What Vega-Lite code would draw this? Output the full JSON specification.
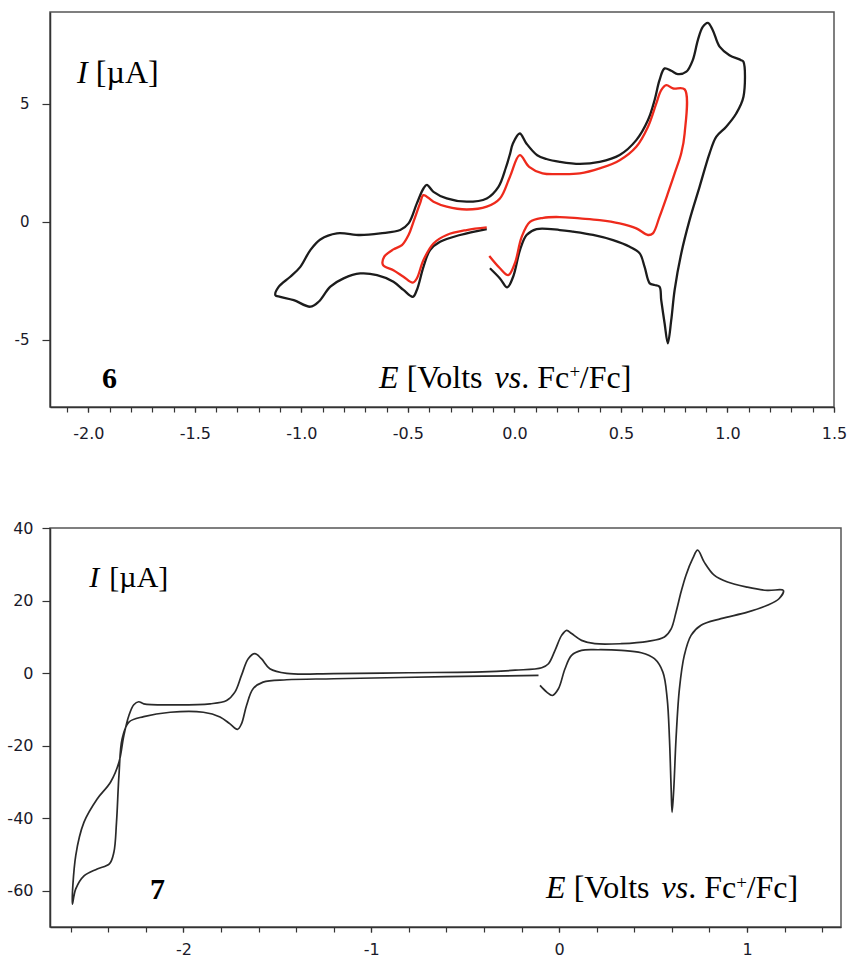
{
  "$schema": "https://vega.github.io/schema/vega-lite/v6.json",
  "background": "white",
  "padding": {"left": 5, "top": 11, "right": 5, "bottom": 0},
  "config": {
    "view": {"stroke": "#555", "strokeWidth": 1.5},
    "axis": {"labelFont": "DejaVu Sans", "labelColor": "#1a1a2a", "domainColor": "#333", "tickColor": "#333", "grid": false, "title": null, "domainWidth": 1.5, "tickWidth": 1.2, "labelOverlap": false, "labelFlush": false},
    "concat": {"spacing": 75}
  },
  "datasets": {
    "top": [
      {"s":"k","o":1,"E":-0.115,"I":-1.97},{"s":"k","o":2,"E":-0.068,"I":-2.40},{"s":"k","o":3,"E":-0.034,"I":-2.78},{"s":"k","o":4,"E":-0.006,"I":-2.33},{"s":"k","o":5,"E":0.026,"I":-1.20},{"s":"k","o":6,"E":0.057,"I":-0.56},{"s":"k","o":7,"E":0.104,"I":-0.31},{"s":"k","o":8,"E":0.213,"I":-0.35},{"s":"k","o":9,"E":0.275,"I":-0.42},{"s":"k","o":10,"E":0.369,"I":-0.56},{"s":"k","o":11,"E":0.463,"I":-0.78},{"s":"k","o":12,"E":0.541,"I":-1.06},{"s":"k","o":13,"E":0.588,"I":-1.34},{"s":"k","o":14,"E":0.611,"I":-1.91},{"s":"k","o":15,"E":0.635,"I":-2.61},{"s":"k","o":16,"E":0.658,"I":-2.68},{"s":"k","o":17,"E":0.681,"I":-2.75},{"s":"k","o":18,"E":0.689,"I":-3.32},{"s":"k","o":19,"E":0.705,"I":-4.31},{"s":"k","o":20,"E":0.720,"I":-5.15},{"s":"k","o":21,"E":0.736,"I":-4.17},{"s":"k","o":22,"E":0.752,"I":-2.89},{"s":"k","o":23,"E":0.783,"I":-1.34},{"s":"k","o":24,"E":0.822,"I":0.07},{"s":"k","o":25,"E":0.869,"I":1.48},{"s":"k","o":26,"E":0.916,"I":2.90},{"s":"k","o":27,"E":0.947,"I":3.60},{"s":"k","o":28,"E":0.994,"I":4.03},{"s":"k","o":29,"E":1.041,"I":4.59},{"s":"k","o":30,"E":1.075,"I":5.30},{"s":"k","o":31,"E":1.075,"I":6.78},{"s":"k","o":32,"E":1.064,"I":6.85},{"s":"k","o":33,"E":1.009,"I":7.06},{"s":"k","o":34,"E":0.963,"I":7.42},{"s":"k","o":35,"E":0.931,"I":8.12},{"s":"k","o":36,"E":0.908,"I":8.43},{"s":"k","o":37,"E":0.884,"I":8.26},{"s":"k","o":38,"E":0.861,"I":7.70},{"s":"k","o":39,"E":0.837,"I":6.85},{"s":"k","o":40,"E":0.807,"I":6.36},{"s":"k","o":41,"E":0.767,"I":6.26},{"s":"k","o":42,"E":0.736,"I":6.40},{"s":"k","o":43,"E":0.705,"I":6.50},{"s":"k","o":44,"E":0.681,"I":6.00},{"s":"k","o":45,"E":0.658,"I":5.16},{"s":"k","o":46,"E":0.627,"I":4.31},{"s":"k","o":47,"E":0.572,"I":3.46},{"s":"k","o":48,"E":0.494,"I":2.83},{"s":"k","o":49,"E":0.400,"I":2.54},{"s":"k","o":50,"E":0.307,"I":2.45},{"s":"k","o":51,"E":0.213,"I":2.54},{"s":"k","o":52,"E":0.150,"I":2.66},{"s":"k","o":53,"E":0.107,"I":2.82},{"s":"k","o":54,"E":0.056,"I":3.32},{"s":"k","o":55,"E":0.025,"I":3.74},{"s":"k","o":56,"E":-0.008,"I":3.30},{"s":"k","o":57,"E":-0.020,"I":2.90},{"s":"k","o":58,"E":-0.040,"I":2.30},{"s":"k","o":59,"E":-0.075,"I":1.48},{"s":"k","o":60,"E":-0.130,"I":0.99},{"s":"k","o":61,"E":-0.224,"I":0.85},{"s":"k","o":62,"E":-0.318,"I":0.99},{"s":"k","o":63,"E":-0.380,"I":1.27},{"s":"k","o":64,"E":-0.411,"I":1.56},{"s":"k","o":65,"E":-0.427,"I":1.41},{"s":"k","o":66,"E":-0.458,"I":0.78},{"s":"k","o":67,"E":-0.497,"I":-0.07},{"s":"k","o":68,"E":-0.536,"I":-0.35},{"s":"k","o":69,"E":-0.630,"I":-0.49},{"s":"k","o":70,"E":-0.724,"I":-0.56},{"s":"k","o":71,"E":-0.833,"I":-0.49},{"s":"k","o":72,"E":-0.911,"I":-0.75},{"s":"k","o":73,"E":-0.958,"I":-1.20},{"s":"k","o":74,"E":-1.005,"I":-1.91},{"s":"k","o":75,"E":-1.052,"I":-2.33},{"s":"k","o":76,"E":-1.106,"I":-2.75},{"s":"k","o":77,"E":-1.122,"I":-3.11},{"s":"k","o":78,"E":-1.099,"I":-3.18},{"s":"k","o":79,"E":-1.036,"I":-3.32},{"s":"k","o":80,"E":-0.958,"I":-3.60},{"s":"k","o":81,"E":-0.919,"I":-3.39},{"s":"k","o":82,"E":-0.864,"I":-2.75},{"s":"k","o":83,"E":-0.802,"I":-2.40},{"s":"k","o":84,"E":-0.724,"I":-2.19},{"s":"k","o":85,"E":-0.645,"I":-2.26},{"s":"k","o":86,"E":-0.568,"I":-2.54},{"s":"k","o":87,"E":-0.521,"I":-2.89},{"s":"k","o":88,"E":-0.477,"I":-3.18},{"s":"k","o":89,"E":-0.458,"I":-2.89},{"s":"k","o":90,"E":-0.427,"I":-1.91},{"s":"k","o":91,"E":-0.396,"I":-1.20},{"s":"k","o":92,"E":-0.349,"I":-0.85},{"s":"k","o":93,"E":-0.255,"I":-0.56},{"s":"k","o":94,"E":-0.130,"I":-0.31},
      {"s":"r","o":1,"E":-0.118,"I":-1.45},{"s":"r","o":2,"E":-0.068,"I":-1.97},{"s":"r","o":3,"E":-0.029,"I":-2.26},{"s":"r","o":4,"E":0.002,"I":-1.76},{"s":"r","o":5,"E":0.034,"I":-0.64},{"s":"r","o":6,"E":0.073,"I":0.00},{"s":"r","o":7,"E":0.135,"I":0.17},{"s":"r","o":8,"E":0.213,"I":0.20},{"s":"r","o":9,"E":0.307,"I":0.14},{"s":"r","o":10,"E":0.400,"I":0.07},{"s":"r","o":11,"E":0.494,"I":-0.07},{"s":"r","o":12,"E":0.572,"I":-0.28},{"s":"r","o":13,"E":0.627,"I":-0.56},{"s":"r","o":14,"E":0.650,"I":-0.49},{"s":"r","o":15,"E":0.681,"I":0.21},{"s":"r","o":16,"E":0.720,"I":1.20},{"s":"r","o":17,"E":0.752,"I":2.05},{"s":"r","o":18,"E":0.783,"I":2.90},{"s":"r","o":19,"E":0.799,"I":3.75},{"s":"r","o":20,"E":0.799,"I":5.61},{"s":"r","o":21,"E":0.744,"I":5.65},{"s":"r","o":22,"E":0.713,"I":5.79},{"s":"r","o":23,"E":0.689,"I":5.58},{"s":"r","o":24,"E":0.666,"I":5.02},{"s":"r","o":25,"E":0.627,"I":4.03},{"s":"r","o":26,"E":0.572,"I":3.18},{"s":"r","o":27,"E":0.494,"I":2.61},{"s":"r","o":28,"E":0.400,"I":2.26},{"s":"r","o":29,"E":0.307,"I":2.05},{"s":"r","o":30,"E":0.213,"I":2.02},{"s":"r","o":31,"E":0.132,"I":2.05},{"s":"r","o":32,"E":0.069,"I":2.33},{"s":"r","o":33,"E":0.025,"I":2.82},{"s":"r","o":34,"E":-0.021,"I":1.91},{"s":"r","o":35,"E":-0.068,"I":0.99},{"s":"r","o":36,"E":-0.130,"I":0.64},{"s":"r","o":37,"E":-0.224,"I":0.52},{"s":"r","o":38,"E":-0.318,"I":0.64},{"s":"r","o":39,"E":-0.380,"I":0.85},{"s":"r","o":40,"E":-0.427,"I":1.13},{"s":"r","o":41,"E":-0.443,"I":0.78},{"s":"r","o":42,"E":-0.474,"I":0.00},{"s":"r","o":43,"E":-0.497,"I":-0.56},{"s":"r","o":44,"E":-0.528,"I":-0.99},{"s":"r","o":45,"E":-0.568,"I":-1.17},{"s":"r","o":46,"E":-0.611,"I":-1.48},{"s":"r","o":47,"E":-0.617,"I":-1.83},{"s":"r","o":48,"E":-0.568,"I":-2.05},{"s":"r","o":49,"E":-0.521,"I":-2.33},{"s":"r","o":50,"E":-0.477,"I":-2.58},{"s":"r","o":51,"E":-0.458,"I":-2.40},{"s":"r","o":52,"E":-0.427,"I":-1.62},{"s":"r","o":53,"E":-0.380,"I":-0.92},{"s":"r","o":54,"E":-0.318,"I":-0.56},{"s":"r","o":55,"E":-0.224,"I":-0.35},{"s":"r","o":56,"E":-0.130,"I":-0.24}
    ],
    "bottom": [
      {"o":1,"E":-0.102,"I":-3.40},{"o":2,"E":-0.066,"I":-5.25},{"o":3,"E":-0.036,"I":-6.17},{"o":4,"E":-0.004,"I":-4.33},{"o":5,"E":0.031,"I":1.20},{"o":6,"E":0.066,"I":4.88},{"o":7,"E":0.119,"I":6.26},{"o":8,"E":0.208,"I":6.44},{"o":9,"E":0.331,"I":6.26},{"o":10,"E":0.437,"I":5.61},{"o":11,"E":0.507,"I":3.96},{"o":12,"E":0.552,"I":0.28},{"o":13,"E":0.575,"I":-7.09},{"o":14,"E":0.587,"I":-18.1},{"o":15,"E":0.596,"I":-31.9},{"o":16,"E":0.601,"I":-38.4},{"o":17,"E":0.610,"I":-31.9},{"o":18,"E":0.622,"I":-18.1},{"o":19,"E":0.640,"I":-4.33},{"o":20,"E":0.666,"I":4.88},{"o":21,"E":0.702,"I":10.4},{"o":22,"E":0.755,"I":13.2},{"o":23,"E":0.861,"I":15.0},{"o":24,"E":1.002,"I":16.8},{"o":25,"E":1.108,"I":18.7},{"o":26,"E":1.170,"I":20.5},{"o":27,"E":1.193,"I":22.8},{"o":28,"E":1.108,"I":22.8},{"o":29,"E":1.002,"I":23.7},{"o":30,"E":0.896,"I":25.1},{"o":31,"E":0.825,"I":27.0},{"o":32,"E":0.772,"I":30.6},{"o":33,"E":0.737,"I":33.9},{"o":34,"E":0.711,"I":31.6},{"o":35,"E":0.675,"I":27.0},{"o":36,"E":0.649,"I":22.4},{"o":37,"E":0.622,"I":16.8},{"o":38,"E":0.596,"I":12.2},{"o":39,"E":0.560,"I":9.94},{"o":40,"E":0.472,"I":8.74},{"o":41,"E":0.331,"I":8.10},{"o":42,"E":0.190,"I":8.10},{"o":43,"E":0.119,"I":9.02},{"o":44,"E":0.066,"I":10.9},{"o":45,"E":0.040,"I":11.8},{"o":46,"E":0.013,"I":10.4},{"o":47,"E":-0.022,"I":6.26},{"o":48,"E":-0.057,"I":2.58},{"o":49,"E":-0.093,"I":1.47},{"o":50,"E":-0.234,"I":0.80},{"o":51,"E":-0.410,"I":0.35},{"o":52,"E":-0.800,"I":0.10},{"o":53,"E":-1.200,"I":-0.15},{"o":54,"E":-1.450,"I":-0.09},{"o":55,"E":-1.540,"I":1.20},{"o":56,"E":-1.585,"I":3.96},{"o":57,"E":-1.620,"I":5.34},{"o":58,"E":-1.655,"I":3.96},{"o":59,"E":-1.691,"I":-0.64},{"o":60,"E":-1.726,"I":-5.25},{"o":61,"E":-1.770,"I":-7.55},{"o":62,"E":-1.858,"I":-8.47},{"o":63,"E":-2.070,"I":-8.74},{"o":64,"E":-2.211,"I":-8.47},{"o":65,"E":-2.238,"I":-7.9},{"o":66,"E":-2.264,"I":-8.74},{"o":67,"E":-2.290,"I":-11.7},{"o":68,"E":-2.317,"I":-17.2},{"o":69,"E":-2.343,"I":-24.6},{"o":70,"E":-2.388,"I":-30.1},{"o":71,"E":-2.459,"I":-34.7},{"o":72,"E":-2.529,"I":-41.1},{"o":73,"E":-2.573,"I":-50.3},{"o":74,"E":-2.591,"I":-63.7},{"o":75,"E":-2.573,"I":-59.5},{"o":76,"E":-2.529,"I":-55.9},{"o":77,"E":-2.459,"I":-54.0},{"o":78,"E":-2.394,"I":-52.6},{"o":79,"E":-2.370,"I":-49.4},{"o":80,"E":-2.356,"I":-41.1},{"o":81,"E":-2.343,"I":-28.2},{"o":82,"E":-2.326,"I":-18.1},{"o":83,"E":-2.290,"I":-13.5},{"o":84,"E":-2.211,"I":-12.0},{"o":85,"E":-2.070,"I":-10.8},{"o":86,"E":-1.894,"I":-10.8},{"o":87,"E":-1.805,"I":-12.1},{"o":88,"E":-1.752,"I":-14.0},{"o":89,"E":-1.712,"I":-15.5},{"o":90,"E":-1.691,"I":-14.0},{"o":91,"E":-1.664,"I":-8.93},{"o":92,"E":-1.629,"I":-4.33},{"o":93,"E":-1.576,"I":-2.49},{"o":94,"E":-1.450,"I":-1.84},{"o":95,"E":-1.200,"I":-1.56},{"o":96,"E":-0.600,"I":-1.00},{"o":97,"E":-0.110,"I":-0.64}
    ]
  },
  "vconcat": [
    {
      "width": 784,
      "height": 395,
      "resolve": {"axis": {"x": "independent"}},
      "layer": [
        {
          "data": {"name": "top"},
          "mark": {"type": "line", "interpolate": "catmull-rom", "strokeWidth": 2.3},
          "encoding": {
            "x": {"field": "E", "type": "quantitative", "scale": {"domain": [-2.18, 1.5], "nice": false, "zero": false},
              "axis": {"orient": "bottom", "values": [-2.1,-2.0,-1.9,-1.8,-1.7,-1.6,-1.5,-1.4,-1.3,-1.2,-1.1,-1.0,-0.9,-0.8,-0.7,-0.6,-0.5,-0.4,-0.3,-0.2,-0.1,0,0.1,0.2,0.3,0.4,0.5,0.6,0.7,0.8,0.9,1.0,1.1,1.2,1.3,1.4,1.5],
                "labels": false, "tickSize": 5, "minExtent": 36, "maxExtent": 36}},
            "y": {"field": "I", "type": "quantitative", "scale": {"domain": [-7.85, 8.89], "nice": false, "zero": false},
              "axis": {"values": [-5, 0, 5], "labelExpr": "(datum.value < 0 ? '-' : '') + abs(datum.value)", "labelOverlap": false, "tickSize": 8, "labelPadding": 13, "labelFontSize": 15, "minExtent": 44, "maxExtent": 44}},
            "order": {"field": "o", "type": "quantitative"},
            "detail": {"field": "s"},
            "color": {"field": "s", "type": "nominal", "scale": {"domain": ["k", "r"], "range": ["#1c1c1c", "#ee2a1c"]}, "legend": null}
          }
        },
        {"data": {"values": [{}]}, "mark": {"type": "text", "text": "I", "font": "Liberation Serif", "fontStyle": "italic", "fontSize": 32, "align": "left", "baseline": "alphabetic", "color": "#000"},
          "encoding": {"x": {"datum": -2.053, "type": "quantitative",
            "axis": {"orient": "bottom", "values": [-2.0, -1.5, -1.0, -0.5, 0, 0.5, 1.0, 1.5], "labelExpr": "(datum.value < -0.000001 ? '-' : '') + format(abs(datum.value), '.1f')", "labelOverlap": false, "labelFlush": false, "labelBound": false, "domain": false, "tickSize": 5, "labelPadding": 13, "labelFontSize": 16, "minExtent": 36, "maxExtent": 36}},
            "y": {"datum": 5.88}}},
        {"data": {"values": [{}]}, "mark": {"type": "text", "text": "[µA]", "font": "Liberation Serif", "fontSize": 32, "align": "left", "baseline": "alphabetic", "color": "#000"}, "encoding": {"x": {"datum": -1.965, "axis": null}, "y": {"datum": 5.88}}},
        {"data": {"values": [{}]}, "mark": {"type": "text", "text": "6", "font": "Liberation Serif", "fontWeight": "bold", "fontSize": 30, "align": "left", "baseline": "alphabetic", "color": "#000"}, "encoding": {"x": {"datum": -1.936, "axis": null}, "y": {"datum": -7.05}}},
        {"data": {"values": [{}]}, "mark": {"type": "text", "text": "E", "font": "Liberation Serif", "fontStyle": "italic", "fontSize": 32, "align": "left", "baseline": "alphabetic", "color": "#000"}, "encoding": {"x": {"datum": -0.636, "axis": null}, "y": {"datum": -7.05}}},
        {"data": {"values": [{}]}, "mark": {"type": "text", "text": "[Volts", "font": "Liberation Serif", "fontSize": 32, "align": "left", "baseline": "alphabetic", "color": "#000"}, "encoding": {"x": {"datum": -0.506, "axis": null}, "y": {"datum": -7.05}}},
        {"data": {"values": [{}]}, "mark": {"type": "text", "text": "vs", "font": "Liberation Serif", "fontStyle": "italic", "fontSize": 32, "align": "left", "baseline": "alphabetic", "color": "#000"}, "encoding": {"x": {"datum": -0.093, "axis": null}, "y": {"datum": -7.05}}},
        {"data": {"values": [{}]}, "mark": {"type": "text", "text": ". Fc", "font": "Liberation Serif", "fontSize": 32, "align": "left", "baseline": "alphabetic", "color": "#000"}, "encoding": {"x": {"datum": 0.032, "axis": null}, "y": {"datum": -7.05}}},
        {"data": {"values": [{}]}, "mark": {"type": "text", "text": "+", "font": "Liberation Serif", "fontSize": 19, "align": "left", "baseline": "alphabetic", "color": "#000"}, "encoding": {"x": {"datum": 0.258, "axis": null}, "y": {"datum": -6.62}}},
        {"data": {"values": [{}]}, "mark": {"type": "text", "text": "/Fc]", "font": "Liberation Serif", "fontSize": 32, "align": "left", "baseline": "alphabetic", "color": "#000"}, "encoding": {"x": {"datum": 0.307, "axis": null}, "y": {"datum": -7.05}}}
      ]
    },
    {
      "width": 791,
      "height": 399,
      "resolve": {"axis": {"x": "independent"}},
      "layer": [
        {
          "data": {"name": "bottom"},
          "mark": {"type": "line", "interpolate": "catmull-rom", "strokeWidth": 1.7, "color": "#2a2a2a"},
          "encoding": {
            "x": {"field": "E", "type": "quantitative", "scale": {"domain": [-2.71, 1.5], "nice": false, "zero": false},
              "axis": {"orient": "bottom", "values": [-2.6,-2.4,-2.2,-2.0,-1.8,-1.6,-1.4,-1.2,-1.0,-0.8,-0.6,-0.4,-0.2,0,0.2,0.4,0.6,0.8,1.0,1.2,1.4],
                "labels": false, "tickSize": 5, "minExtent": 31, "maxExtent": 31}},
            "y": {"field": "I", "type": "quantitative", "scale": {"domain": [-70, 40], "nice": false, "zero": false},
              "axis": {"values": [-60, -40, -20, 0, 20, 40], "labelExpr": "(datum.value < 0 ? '-' : '') + abs(datum.value)", "labelOverlap": false, "tickSize": 8, "labelPadding": 9, "labelFontSize": 16, "minExtent": 44, "maxExtent": 44}},
            "order": {"field": "o", "type": "quantitative"}
          }
        },
        {"data": {"values": [{}]}, "mark": {"type": "text", "text": "I", "font": "Liberation Serif", "fontStyle": "italic", "fontSize": 30, "align": "left", "baseline": "alphabetic", "color": "#000"},
          "encoding": {"x": {"datum": -2.501, "type": "quantitative",
            "axis": {"orient": "bottom", "values": [-2, -1, 0, 1], "labelExpr": "(datum.value < -0.5 ? '-' : '') + abs(round(datum.value))", "labelOverlap": false, "labelFlush": false, "labelBound": false, "domain": false, "tickSize": 5, "labelPadding": 9, "labelFontSize": 16, "minExtent": 31, "maxExtent": 31}},
            "y": {"datum": 23.7}}},
        {"data": {"values": [{}]}, "mark": {"type": "text", "text": "[µA]", "font": "Liberation Serif", "fontSize": 30, "align": "left", "baseline": "alphabetic", "color": "#000"}, "encoding": {"x": {"datum": -2.394, "axis": null}, "y": {"datum": 23.7}}},
        {"data": {"values": [{}]}, "mark": {"type": "text", "text": "7", "font": "Liberation Serif", "fontWeight": "bold", "fontSize": 30, "align": "left", "baseline": "alphabetic", "color": "#000"}, "encoding": {"x": {"datum": -2.178, "axis": null}, "y": {"datum": -62.3}}},
        {"data": {"values": [{}]}, "mark": {"type": "text", "text": "E", "font": "Liberation Serif", "fontStyle": "italic", "fontSize": 32, "align": "left", "baseline": "alphabetic", "color": "#000"}, "encoding": {"x": {"datum": -0.070, "axis": null}, "y": {"datum": -62.0}}},
        {"data": {"values": [{}]}, "mark": {"type": "text", "text": "[Volts", "font": "Liberation Serif", "fontSize": 32, "align": "left", "baseline": "alphabetic", "color": "#000"}, "encoding": {"x": {"datum": 0.077, "axis": null}, "y": {"datum": -62.0}}},
        {"data": {"values": [{}]}, "mark": {"type": "text", "text": "vs", "font": "Liberation Serif", "fontStyle": "italic", "fontSize": 32, "align": "left", "baseline": "alphabetic", "color": "#000"}, "encoding": {"x": {"datum": 0.545, "axis": null}, "y": {"datum": -62.0}}},
        {"data": {"values": [{}]}, "mark": {"type": "text", "text": ". Fc", "font": "Liberation Serif", "fontSize": 32, "align": "left", "baseline": "alphabetic", "color": "#000"}, "encoding": {"x": {"datum": 0.687, "axis": null}, "y": {"datum": -62.0}}},
        {"data": {"values": [{}]}, "mark": {"type": "text", "text": "+", "font": "Liberation Serif", "fontSize": 19, "align": "left", "baseline": "alphabetic", "color": "#000"}, "encoding": {"x": {"datum": 0.942, "axis": null}, "y": {"datum": -59.4}}},
        {"data": {"values": [{}]}, "mark": {"type": "text", "text": "/Fc]", "font": "Liberation Serif", "fontSize": 32, "align": "left", "baseline": "alphabetic", "color": "#000"}, "encoding": {"x": {"datum": 0.998, "axis": null}, "y": {"datum": -62.0}}}
      ]
    }
  ]
}
